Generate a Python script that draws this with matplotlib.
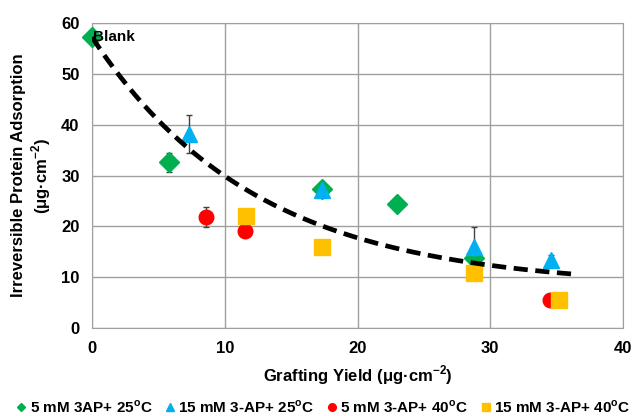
import numpy as np
import matplotlib.pyplot as plt

plt.rcParams['font.family'] = ['Liberation Sans', 'DejaVu Sans']
plt.rcParams['font.weight'] = 'bold'
plt.rcParams['mathtext.fontset'] = 'custom'
plt.rcParams['mathtext.bf'] = 'Liberation Sans:bold'
plt.rcParams['mathtext.rm'] = 'Liberation Sans:bold'

# 5 mM 3AP, 25 C
x_g = [0.0, 5.8, 17.3, 23.0, 28.8]
y_g = [57.2, 32.6, 27.4, 24.4, 13.8]
e_g = [0.0, 1.9, 1.0, 0.0, 0.0]

# 15 mM 3-AP, 25 C
x_b = [7.3, 17.3, 28.8, 34.6]
y_b = [38.2, 27.2, 15.9, 13.4]
e_b = [3.8, 1.0, 4.0, 1.0]

# 5 mM 3-AP, 40 C
x_r = [8.6, 11.5, 34.5]
y_r = [21.9, 19.0, 5.5]
e_r = [2.0, 0.0, 0.0]

# 15 mM 3-AP, 40 C
x_y = [11.6, 17.3, 28.8, 35.2]
y_y = [22.0, 16.0, 10.8, 5.5]
e_y = [1.0, 0.0, 0.0, 0.0]

# trend line y = c + a*exp(-b*x)
fit_a, fit_b, fit_c = 49.2, 0.081, 8.0
fit_xmax = 36.3

fig = plt.figure(figsize=(6.35, 4.16), dpi=100)
ax = fig.add_axes([0.145, 0.2115, 0.836, 0.7332])

deg = '$^{\\mathrm{o}}$'
series = [
    (x_g, y_g, e_g, 'D', 10.5, '#00B050', '5 mM 3AP+ 25' + deg + 'C'),
    (x_b, y_b, e_b, '^', 11, '#00B0F0', '15 mM 3-AP+ 25' + deg + 'C'),
    (x_r, y_r, e_r, 'o', 10.5, '#FF0000', '5 mM 3-AP+ 40' + deg + 'C'),
    (x_y, y_y, e_y, 's', 11, '#FFC000', '15 mM 3-AP+ 40' + deg + 'C'),
]
handles = []
for i, (xs, ys, es, m, ms, col, lab) in enumerate(series):
    # error bars sit beneath every marker
    ax.errorbar(xs, ys, yerr=es, fmt='none', ecolor='#404040', elinewidth=1,
                capsize=2.5, capthick=1, zorder=3)
    ax.plot(xs, ys, linestyle='none', marker=m, ms=ms, color=col,
            mec=col, zorder=4 + i, clip_on=False)
    handles.append(plt.Line2D([], [], linestyle='none', marker=m,
                              ms=5.5 if m != 'D' else 4.5,
                              color=col, label=lab))

xf = np.linspace(0, fit_xmax, 200)
ax.plot(xf, fit_c + fit_a * np.exp(-fit_b * xf), color='black', lw=3.4,
        dashes=(3, 1.6), zorder=12)

ax.text(0.1, 57.2, 'Blank', fontsize=11, fontweight='bold', va='center',
        ha='left', zorder=13)

ax.set_xlim(0, 40)
ax.set_ylim(0, 60)
ax.set_xticks([0, 10, 20, 30, 40])
ax.set_yticks([0, 10, 20, 30, 40, 50, 60])
ax.grid(True, color='#A0A0A0', lw=1)
ax.set_axisbelow(True)
for s in ax.spines.values():
    s.set_color('#A0A0A0')
ax.tick_params(length=0, labelsize=12, pad=9)
for t in ax.get_xticklabels() + ax.get_yticklabels():
    t.set_fontweight('bold')

ax.set_xlabel('Grafting Yield (μg·cm$^{\\mathrm{-2}}$)', fontsize=12,
              fontweight='bold', labelpad=6)
ax.set_ylabel('Irreversible Protein Adsorption\n(μg·cm$^{\\mathrm{-2}}$)',
              fontsize=12, fontweight='bold', labelpad=6)

fig.legend(handles=handles, loc='center', bbox_to_anchor=(0.51, 0.022),
           ncol=4, frameon=False, handlelength=0.5,
           handletextpad=0.3, columnspacing=0.9,
           prop={'weight': 'bold', 'size': 11})

fig.savefig('out.png', dpi=100)
